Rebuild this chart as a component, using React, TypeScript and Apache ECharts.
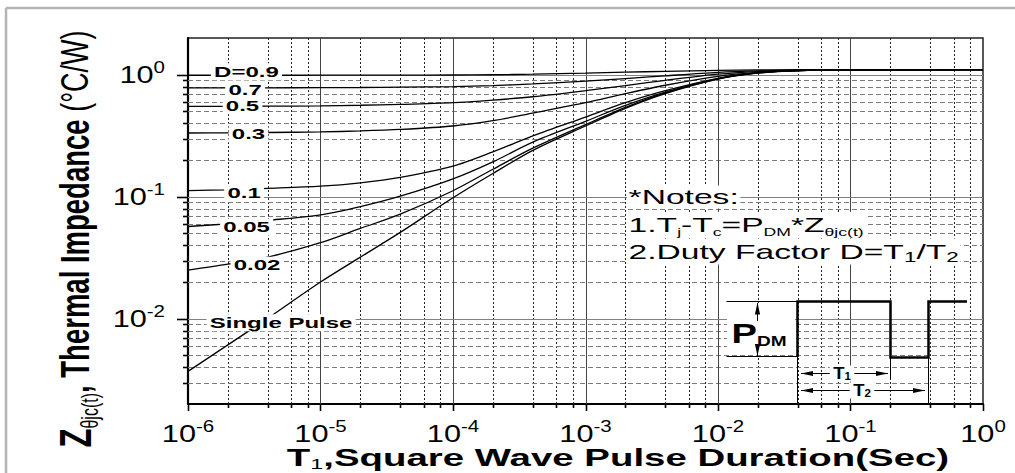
import React, { useEffect, useRef } from 'react';
import * as echarts from 'echarts';

const FONT = '"Liberation Sans", Arial, Helvetica, sans-serif';

// ---- data ----
const PULSE_T = [1e-6, 2e-6, 4e-6, 1e-5, 2e-5, 4e-5, 1e-4, 2e-4, 4e-4, 1e-3, 2e-3, 4e-3, 1e-2, 2e-2, 4e-2, 1e-1, 1];
const Z_D09 = [0.99, 0.99, 0.99, 0.991, 0.992, 0.993, 0.995, 1.0, 1.01, 1.03, 1.05, 1.065, 1.085, 1.095, 1.098, 1.1, 1.1];
const Z_D07 = [0.78, 0.78, 0.781, 0.783, 0.786, 0.79, 0.8, 0.815, 0.84, 0.885, 0.93, 0.98, 1.045, 1.075, 1.09, 1.097, 1.1];
const Z_D05 = [0.55, 0.551, 0.552, 0.556, 0.562, 0.571, 0.59, 0.62, 0.66, 0.74, 0.815, 0.9, 1.01, 1.06, 1.085, 1.095, 1.1];
const Z_D03 = [0.333, 0.334, 0.336, 0.34, 0.346, 0.356, 0.38, 0.42, 0.485, 0.59, 0.7, 0.82, 0.97, 1.045, 1.08, 1.095, 1.1];
const Z_D01 = [0.112, 0.114, 0.117, 0.122, 0.13, 0.144, 0.178, 0.233, 0.315, 0.45, 0.59, 0.74, 0.935, 1.04, 1.08, 1.095, 1.1];
const Z_D005 = [0.057, 0.06, 0.064, 0.071, 0.083, 0.101, 0.14, 0.193, 0.28, 0.415, 0.56, 0.72, 0.93, 1.035, 1.08, 1.095, 1.1];
const Z_D002 = [0.025, 0.028, 0.032, 0.042, 0.055, 0.072, 0.112, 0.168, 0.25, 0.39, 0.54, 0.71, 0.925, 1.035, 1.08, 1.095, 1.1];
const Z_SINGLE = [0.0037, 0.0061, 0.0101, 0.02, 0.032, 0.051, 0.098, 0.155, 0.24, 0.38, 0.53, 0.7, 0.92, 1.03, 1.08, 1.095, 1.1];

const CURVE_NAMES = ['D=0.9', '0.7', '0.5', '0.3', '0.1', '0.05', '0.02', 'Single Pulse'];
const CURVE_VALUES = [Z_D09, Z_D07, Z_D05, Z_D03, Z_D01, Z_D005, Z_D002, Z_SINGLE];
// label anchors on the curves (data units)
const LABEL_T = [2.76e-6, 2.7e-6, 2.58e-6, 2.86e-6, 2.65e-6, 2.77e-6, 3.32e-6, 5.04e-6];
const LABEL_Z = [1.06, 0.76, 0.556, 0.327, 0.107, 0.0564, 0.0275, 0.00925];

// ---- axes ----
const X_MIN = 1e-6;
const X_MAX = 1;
const Y_MIN = 0.002;
const Y_MAX = 2;
const X_DECADES = [1e-6, 1e-5, 1e-4, 1e-3, 1e-2, 1e-1, 1];
const X_EXPONENTS = ['-6', '-5', '-4', '-3', '-2', '-1', '0'];
const X_MINOR_MULT = [2, 4, 6, 8];
const Y_DECADES = [0.01, 0.1, 1];
const Y_EXPONENTS = ['-2', '-1', '0'];
const Y_MINOR_MULT = [2, 3, 4, 5, 6, 7, 8, 9];

const X_MINOR: number[] = [];
X_DECADES.slice(0, -1).forEach((d) => X_MINOR_MULT.forEach((m) => X_MINOR.push(d * m)));
const Y_MINOR: number[] = [];
[0.001, 0.01, 0.1].forEach((d) => Y_MINOR_MULT.forEach((m) => {
  const v = d * m;
  if (v > Y_MIN * 1.01 && v < Y_MAX * 0.99) Y_MINOR.push(v);
}));

const tickRich = {
  b: { fontFamily: FONT, fontSize: 24, lineHeight: 30, fill: '#000' },
  e: { fontFamily: FONT, fontSize: 16, lineHeight: 12, verticalAlign: 'top', fill: '#000' },
};

function xGridSeries(values: number[], major: boolean) {
  return {
    type: 'custom',
    coordinateSystem: 'cartesian2d',
    silent: true,
    clip: false,
    z: 1,
    data: values.map((v) => [v, Y_MIN]),
    renderItem: (params: any, api: any) => {
      const cs = params.coordSys;
      const p = api.coord([api.value(0), api.value(1)]);
      const x = Math.round(p[0]) + 0.5;
      const top = cs.y;
      const bot = cs.y + cs.height;
      const children: any[] = [];
      if (p[0] > cs.x + 2 && p[0] < cs.x + cs.width - 2) {
        children.push({
          type: 'line',
          shape: { x1: x, y1: top, x2: x, y2: bot },
          style: major
            ? { stroke: '#444', lineWidth: 1 }
            : { stroke: '#222', lineWidth: 1, lineDash: [2, 2] },
        });
      }
      children.push({
        type: 'line',
        shape: { x1: x, y1: bot, x2: x, y2: bot + (major ? 7 : 4) },
        style: { stroke: '#000', lineWidth: 1.6 },
      });
      if (major) {
        children.push({
          type: 'text',
          x: p[0],
          y: bot + 29.5,
          scaleX: 1.28,
          style: {
            text: `{b|10}{e|${X_EXPONENTS[params.dataIndex]}}`,
            rich: tickRich,
            align: 'center',
            verticalAlign: 'middle',
            fill: '#000',
          },
        });
      }
      return { type: 'group', children };
    },
  };
}

function yGridSeries(values: number[], major: boolean) {
  return {
    type: 'custom',
    coordinateSystem: 'cartesian2d',
    silent: true,
    clip: false,
    z: 1,
    data: values.map((v) => [X_MIN, v]),
    renderItem: (params: any, api: any) => {
      const cs = params.coordSys;
      const p = api.coord([api.value(0), api.value(1)]);
      const y = Math.round(p[1]) + 0.5;
      const left = cs.x;
      const right = cs.x + cs.width;
      const children: any[] = [];
      children.push({
        type: 'line',
        shape: { x1: left, y1: y, x2: right, y2: y },
        style: major
          ? { stroke: '#808080', lineWidth: 1 }
          : { stroke: '#7a7a7a', lineWidth: 1, lineDash: [5, 3] },
      });
      children.push({
        type: 'line',
        shape: { x1: left - (major ? 11 : 5), y1: y, x2: left, y2: y },
        style: { stroke: '#000', lineWidth: 1.6 },
      });
      if (major) {
        children.push({
          type: 'text',
          x: left - 23,
          y: p[1],
          scaleX: 1.28,
          style: {
            text: `{b|10}{e|${Y_EXPONENTS[params.dataIndex]}}`,
            rich: tickRich,
            align: 'right',
            verticalAlign: 'middle',
            fill: '#000',
          },
        });
      }
      return { type: 'group', children };
    },
  };
}

const curveSeries = CURVE_VALUES.map((vals, i) => ({
  type: 'line',
  name: CURVE_NAMES[i],
  data: PULSE_T.map((t, j) => [t, vals[j]]),
  showSymbol: false,
  symbol: 'none',
  smooth: 0.3,
  silent: true,
  z: 3,
  lineStyle: { color: '#000', width: 1.3 },
}));

const labelSeries = {
  type: 'custom',
  coordinateSystem: 'cartesian2d',
  silent: true,
  clip: false,
  z: 6,
  data: LABEL_T.map((t, i) => [t, LABEL_Z[i]]),
  renderItem: (params: any, api: any) => {
    const p = api.coord([api.value(0), api.value(1)]);
    return {
      type: 'text',
      x: p[0],
      y: p[1],
      scaleX: 1.6,
      style: {
        text: CURVE_NAMES[params.dataIndex],
        fill: '#000',
        font: `bold 15px ${FONT}`,
        align: 'center',
        verticalAlign: 'middle',
        backgroundColor: '#fff',
        padding: [1, 2],
      },
    };
  },
};

const arrowHead = (tipX: number, tipY: number, dir: 'up' | 'down' | 'left' | 'right') => {
  const L = 12;
  const W = 2.6;
  let pts: number[][];
  if (dir === 'up') pts = [[tipX, tipY], [tipX - W, tipY + L], [tipX + W, tipY + L]];
  else if (dir === 'down') pts = [[tipX, tipY], [tipX - W, tipY - L], [tipX + W, tipY - L]];
  else if (dir === 'left') pts = [[tipX, tipY], [tipX + L, tipY - W], [tipX + L, tipY + W]];
  else pts = [[tipX, tipY], [tipX - L, tipY - W], [tipX - L, tipY + W]];
  return { type: 'polygon', z: 20, shape: { points: pts }, style: { fill: '#000' } };
};

const thin = (x1: number, y1: number, x2: number, y2: number, w = 1) => ({
  type: 'line',
  z: 20,
  shape: { x1, y1, x2, y2 },
  style: { stroke: '#000', lineWidth: w },
});

const notesRich = {
  n: { fontFamily: FONT, fontSize: 21, lineHeight: 26, fill: '#000' },
  s: { fontFamily: FONT, fontSize: 11, lineHeight: 13, verticalAlign: 'bottom', fill: '#000' },
  s2: { fontFamily: FONT, fontSize: 14, lineHeight: 15, verticalAlign: 'bottom', fill: '#000' },
};

const graphicElements: any[] = [
  // outer frame
  { type: 'line', z: 20, shape: { x1: 6, y1: 8, x2: 6, y2: 473 }, style: { stroke: '#b4b4b4', lineWidth: 2.5 } },
  { type: 'line', z: 20, shape: { x1: 6, y1: 8, x2: 1015, y2: 8 }, style: { stroke: '#b4b4b4', lineWidth: 2.5 } },
  // y axis title
  {
    type: 'text',
    z: 20,
    x: 75,
    y: 239,
    rotation: Math.PI / 2,
    scaleY: 1.45,
    style: {
      text: '{z|Z}{s|θjc(t)}{b|, Thermal Impedance }{n|(°C/W)}',
      align: 'center',
      verticalAlign: 'middle',
      rich: {
        z: { fontFamily: FONT, fontWeight: 'bold', fontSize: 31, lineHeight: 36, fill: '#000' },
        s: { fontFamily: FONT, fontSize: 16, lineHeight: 18, verticalAlign: 'bottom', fill: '#000' },
        b: { fontFamily: FONT, fontWeight: 'bold', fontSize: 27.5, lineHeight: 36, fill: '#000' },
        n: { fontFamily: FONT, fontSize: 27, lineHeight: 36, fill: '#000' },
      },
    },
  },
  // x axis title
  {
    type: 'text',
    z: 20,
    x: 618,
    y: 458,
    scaleX: 1.67,
    style: {
      text: '{b|T}{s|1}{b|,Square Wave Pulse Duration(Sec)}',
      align: 'center',
      verticalAlign: 'middle',
      rich: {
        b: { fontFamily: FONT, fontWeight: 'bold', fontSize: 23, lineHeight: 26, fill: '#000' },
        s: { fontFamily: FONT, fontSize: 14, lineHeight: 14, verticalAlign: 'bottom', fill: '#000' },
      },
    },
  },
  // notes
  {
    type: 'text', z: 20, x: 627, y: 197, scaleX: 1.6,
    style: { text: '*Notes:', font: `21px ${FONT}`, fill: '#000', align: 'left', verticalAlign: 'middle', backgroundColor: '#fff', padding: [1, 1] },
  },
  {
    type: 'text', z: 20, x: 627, y: 225, scaleX: 1.6,
    style: {
      text: '{n|1.T}{s|j}{n|-T}{s|c}{n|=P}{s|DM}{n|*Z}{s|θjc(t)}',
      rich: notesRich, align: 'left', verticalAlign: 'middle', backgroundColor: '#fff', padding: [0, 1],
    },
  },
  {
    type: 'text', z: 20, x: 627, y: 251.5, scaleX: 1.6,
    style: {
      text: '{n|2.Duty Factor D=T}{s2|1}{n|/T}{s2|2}',
      rich: notesRich, align: 'left', verticalAlign: 'middle', backgroundColor: '#fff', padding: [0, 1],
    },
  },
  // PDM diagram
  { type: 'rect', z: 19, shape: { x: 727, y: 303, width: 68, height: 52 }, style: { fill: '#fff' } },
  thin(726.5, 301.5, 797, 301.5),
  thin(726.5, 356.5, 797, 356.5),
  thin(757.5, 303, 757.5, 321),
  thin(757.5, 347, 757.5, 356),
  arrowHead(757.5, 302.5, 'up'),
  arrowHead(757.5, 356, 'down'),
  {
    type: 'text', z: 21, x: 759, y: 333, scaleX: 1.36,
    style: {
      text: '{p|P}{d|DM}',
      align: 'center',
      verticalAlign: 'middle',
      rich: {
        p: { fontFamily: FONT, fontWeight: 'bold', fontSize: 28, lineHeight: 30, fill: '#000' },
        d: { fontFamily: FONT, fontWeight: 'bold', fontSize: 14, lineHeight: 18, verticalAlign: 'bottom', fill: '#000' },
      },
    },
  },
  {
    type: 'polyline', z: 20,
    shape: { points: [[797.5, 357], [797.5, 301.5], [890.5, 301.5], [890.5, 357.5], [928.5, 357.5], [928.5, 301.5], [967, 301.5]] },
    style: { stroke: '#000', lineWidth: 2.5, fill: 'none' },
  },
  thin(797.5, 357, 797.5, 404),
  thin(890.5, 358, 890.5, 379),
  thin(928.5, 358, 928.5, 404),
  // T1 arrow
  thin(801, 373.5, 888, 373.5),
  arrowHead(801, 373.5, 'left'),
  arrowHead(888, 373.5, 'right'),
  {
    type: 'text', z: 21, x: 842, y: 373.5, scaleX: 1.15,
    style: {
      text: '{b|T}{s|1}', align: 'center', verticalAlign: 'middle', backgroundColor: '#fff', padding: [0, 3],
      rich: {
        b: { fontFamily: FONT, fontWeight: 'bold', fontSize: 16, lineHeight: 16, fill: '#000' },
        s: { fontFamily: FONT, fontWeight: 'bold', fontSize: 10, lineHeight: 10, verticalAlign: 'bottom', fill: '#000' },
      },
    },
  },
  // T2 arrow
  thin(801, 390.5, 925, 390.5),
  arrowHead(801, 390.5, 'left'),
  arrowHead(925, 390.5, 'right'),
  {
    type: 'text', z: 21, x: 862, y: 390.5, scaleX: 1.15,
    style: {
      text: '{b|T}{s|2}', align: 'center', verticalAlign: 'middle', backgroundColor: '#fff', padding: [0, 3],
      rich: {
        b: { fontFamily: FONT, fontWeight: 'bold', fontSize: 16, lineHeight: 16, fill: '#000' },
        s: { fontFamily: FONT, fontWeight: 'bold', fontSize: 10, lineHeight: 10, verticalAlign: 'bottom', fill: '#000' },
      },
    },
  },
];

const option: any = {
  animation: false,
  backgroundColor: '#fff',
  grid: {
    left: 188,
    top: 38,
    right: 32,
    bottom: 69,
    show: true,
    borderColor: '#222',
    borderWidth: 1.5,
    backgroundColor: 'transparent',
  },
  xAxis: {
    type: 'log',
    logBase: 10,
    min: X_MIN,
    max: X_MAX,
    axisLine: { show: true, onZero: false, lineStyle: { color: '#000', width: 2.2 } },
    axisTick: { show: false },
    axisLabel: { show: false },
    splitLine: { show: false },
  },
  yAxis: {
    type: 'log',
    logBase: 10,
    min: Y_MIN,
    max: Y_MAX,
    axisLine: { show: true, onZero: false, lineStyle: { color: '#000', width: 2.2 } },
    axisTick: { show: false },
    axisLabel: { show: false },
    splitLine: { show: false },
  },
  series: [
    xGridSeries(X_MINOR, false),
    yGridSeries(Y_MINOR, false),
    xGridSeries(X_DECADES, true),
    yGridSeries(Y_DECADES, true),
    ...curveSeries,
    labelSeries,
  ],
  graphic: { elements: graphicElements },
};

export default function App() {
  const ref = useRef<HTMLDivElement>(null);
  useEffect(() => {
    if (!ref.current) return;
    const chart = echarts.init(ref.current, undefined, { renderer: 'svg' });
    chart.setOption(option);
    return () => chart.dispose();
  }, []);
  return (
    <div
      ref={ref}
      style={{ position: 'fixed', left: 0, top: 0, width: 1015, height: 473, background: '#fff' }}
    />
  );
}
